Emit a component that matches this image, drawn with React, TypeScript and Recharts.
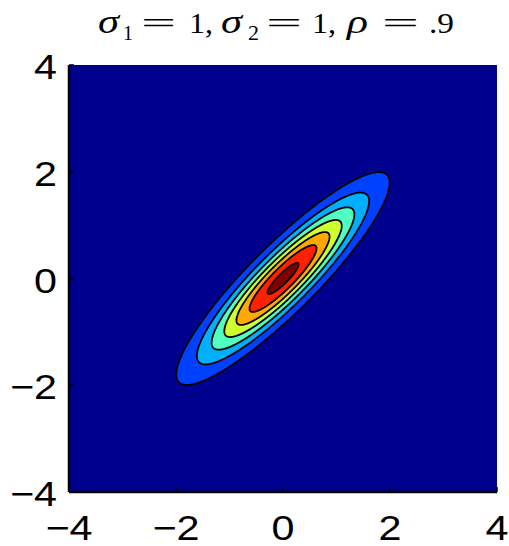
import { ComposedChart, Area, XAxis, YAxis, CartesianGrid } from 'recharts'

// bivariate normal parameters (same as the title)
const sigma1 = 1
const sigma2 = 1
const rho = 0.9

// density levels of the filled contours, lowest first
const levels = [0.05, 0.1, 0.15, 0.2, 0.25, 0.3, 0.35]
const levelColors = ['#0040FF', '#00B0FF', '#50FFC0', '#D0FF30', '#FFA800', '#FF2000', '#800000']
const backgroundColor = '#00008F'

const axisTicks = [-4, -2, 0, 2, 4]
const axisDomain: [number, number] = [-4, 4]

const AXIS_FONT = '"Liberation Sans", Arial, Helvetica, sans-serif'
const MATH_FONT = '"Liberation Serif", "Times New Roman", serif'
const SAMPLES = 180

// Mahalanobis radius squared of the contour at density c
const radiusSq = (c: number) =>
  -2 * Math.log(c * 2 * Math.PI * sigma1 * sigma2 * Math.sqrt(1 - rho * rho))

const radii = levels.map(radiusSq)

// x positions: every contour sampled along its angle, so the tips stay round
const xs: number[] = []
radii.forEach((m) => {
  for (let k = 0; k <= SAMPLES; k++) {
    xs.push(sigma1 * Math.sqrt(m) * Math.cos((k * Math.PI) / SAMPLES))
  }
})
xs.sort((a, b) => a - b)

// each row carries the [lower, upper] y of every contour at that x (null outside)
const contourData = xs.map((x) => {
  const u = x / sigma1
  const bands = radii.map((m) => {
    const rest = m - u * u
    if (rest < -1e-9) return [null, null]
    const half = Math.sqrt((1 - rho * rho) * Math.max(0, rest))
    return [sigma2 * (rho * u - half), sigma2 * (rho * u + half)]
  })
  return { x, bands }
})

const fmt = (v: number) => (v < 0 ? `\u2212${-v}` : `${v}`)

// tick labels are a little wide, like the exported figure
function Label({ x, y, anchor, children }: any) {
  return (
    <g transform={`translate(${x},${y}) scale(1.18,1)`}>
      <text x={0} y={0} textAnchor={anchor} fontSize={35} fontFamily={AXIS_FONT} fill="#000">
        {children}
      </text>
    </g>
  )
}

function BottomTick({ x, y, payload }: any) {
  return (
    <g>
      <line x1={x} y1={y} x2={x} y2={y - 5} stroke="#000" strokeWidth={1.5} />
      <Label x={x} y={y + 48} anchor="middle">{fmt(payload.value)}</Label>
    </g>
  )
}

function LeftTick({ x, y, payload }: any) {
  return (
    <g>
      <line x1={x} y1={y} x2={x + 5} y2={y} stroke="#000" strokeWidth={1.5} />
      <Label x={x - 12} y={y + 14} anchor="end">{fmt(payload.value)}</Label>
    </g>
  )
}

function TopTick({ x, y }: any) {
  return <line x1={x} y1={y} x2={x} y2={y + 5} stroke="#000" strokeWidth={1.5} />
}

function RightTick({ x, y }: any) {
  return <line x1={x} y1={y} x2={x - 5} y2={y} stroke="#000" strokeWidth={1.5} />
}

function Title() {
  const t = (x: number, w: number, s: string, opts: any = {}) => (
    <text
      x={x}
      y={opts.y ?? 33}
      textLength={w}
      lengthAdjust="spacingAndGlyphs"
      fontSize={opts.size ?? 30}
      fontStyle={opts.italic ? 'italic' : 'normal'}
      fontFamily={MATH_FONT}
      fill="#000"
    >
      {s}
    </text>
  )
  return (
    <svg width={509} height={50} style={{ position: 'absolute', left: 0, top: 0 }}>
      {t(98, 21, 'σ', { italic: true, size: 33 })}
      {t(123, 10, '1', { size: 21, y: 40 })}
      {t(141, 35, '=')}
      {t(189, 24, '1,')}
      {t(221, 21, 'σ', { italic: true, size: 33 })}
      {t(248, 11, '2', { size: 21, y: 40 })}
      {t(266, 36, '=')}
      {t(312, 24, '1,')}
      {t(347, 21, 'ρ', { italic: true, size: 33 })}
      {t(382, 37, '=')}
      {t(429, 25, '.9')}
    </svg>
  )
}

export default function App() {
  return (
    <div style={{ position: 'absolute', left: 0, top: 0, width: 509, height: 546, background: '#fff' }}>
      <Title />
      <ComposedChart
        width={509}
        height={546}
        data={contourData}
        margin={{ top: 65, right: 12, bottom: 0, left: 0 }}
      >
        <CartesianGrid horizontal={false} vertical={false} fill={backgroundColor} fillOpacity={1} />
        <XAxis
          dataKey="x"
          type="number"
          domain={axisDomain}
          ticks={axisTicks}
          height={54}
          tickSize={0}
          tickMargin={0}
          tickLine={false}
          axisLine={{ stroke: '#000', strokeWidth: 2.5 }}
          tick={<BottomTick />}
          interval={0}
        />
        <XAxis
          xAxisId="top"
          orientation="top"
          dataKey="x"
          type="number"
          domain={axisDomain}
          ticks={axisTicks}
          height={0}
          tickSize={0}
          tickMargin={0}
          tickLine={false}
          axisLine={{ stroke: '#000', strokeWidth: 2.5 }}
          tick={<TopTick />}
          interval={0}
        />
        <YAxis
          type="number"
          domain={axisDomain}
          ticks={axisTicks}
          width={69}
          tickSize={0}
          tickMargin={0}
          tickLine={false}
          axisLine={{ stroke: '#000', strokeWidth: 2.5 }}
          tick={<LeftTick />}
          interval={0}
        />
        <YAxis
          yAxisId="right"
          orientation="right"
          type="number"
          domain={axisDomain}
          ticks={axisTicks}
          width={0}
          tickSize={0}
          tickMargin={0}
          tickLine={false}
          axisLine={{ stroke: '#000', strokeWidth: 2.5 }}
          tick={<RightTick />}
          interval={0}
        />
        {levels.map((level, i) => (
          <Area
            key={level}
            type="linear"
            dataKey={(d: any) => d.bands[i]}
            fill={levelColors[i]}
            fillOpacity={1}
            stroke="#000"
            strokeWidth={1.8}
            dot={false}
            activeDot={false}
            isAnimationActive={false}
          />
        ))}
      </ComposedChart>
    </div>
  )
}
